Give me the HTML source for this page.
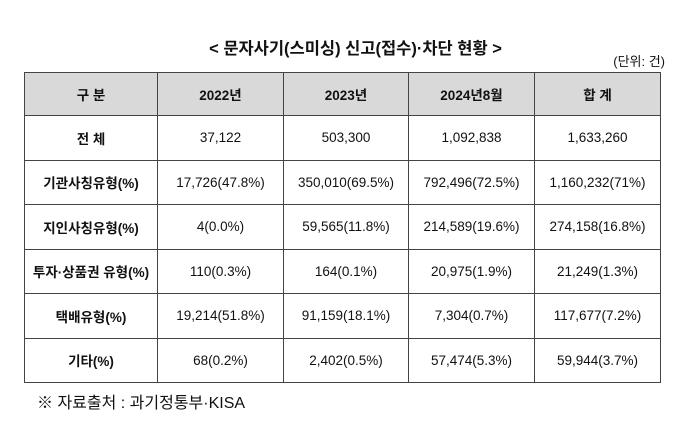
<!DOCTYPE html>
<html><head><meta charset="utf-8"><style>
body{margin:0;width:699px;height:423px;background:#fff;font-family:"Liberation Sans","Noto Sans CJK KR",sans-serif;color:#111;position:relative;overflow:hidden}
.t{position:absolute;top:35px;left:0;width:699px;text-align:center;font-size:16.5px;font-weight:bold;padding-left:12px;box-sizing:border-box}
.u{position:absolute;top:51px;right:34px;font-size:13px}
table{position:absolute;left:24px;top:72px;border-collapse:collapse;table-layout:fixed}
td{border:1.5px solid #444;text-align:center;font-size:13.5px;height:43.5px;padding:0}
tr.h td{background:#d9d9d9;font-weight:bold;height:42px}
td.l{font-weight:bold}
.f{position:absolute;left:37px;top:389px;font-size:16px}
</style></head><body>
<div class="t">&lt; 문자사기(스미싱) 신고(접수)·차단 현황 &gt;</div>
<div class="u">(단위: 건)</div>
<table>
<colgroup><col style="width:133px"><col style="width:126px"><col style="width:125px"><col style="width:126px"><col style="width:126px"></colgroup>
<tr class="h"><td>구 분</td><td>2022년</td><td>2023년</td><td>2024년8월</td><td>합 계</td></tr>
<tr><td class="l">전 체</td><td>37,122</td><td>503,300</td><td>1,092,838</td><td>1,633,260</td></tr>
<tr><td class="l">기관사칭유형(%)</td><td>17,726(47.8%)</td><td>350,010(69.5%)</td><td>792,496(72.5%)</td><td>1,160,232(71%)</td></tr>
<tr><td class="l">지인사칭유형(%)</td><td>4(0.0%)</td><td>59,565(11.8%)</td><td>214,589(19.6%)</td><td>274,158(16.8%)</td></tr>
<tr><td class="l">투자·상품권 유형(%)</td><td>110(0.3%)</td><td>164(0.1%)</td><td>20,975(1.9%)</td><td>21,249(1.3%)</td></tr>
<tr><td class="l">택배유형(%)</td><td>19,214(51.8%)</td><td>91,159(18.1%)</td><td>7,304(0.7%)</td><td>117,677(7.2%)</td></tr>
<tr><td class="l">기타(%)</td><td>68(0.2%)</td><td>2,402(0.5%)</td><td>57,474(5.3%)</td><td>59,944(3.7%)</td></tr>
</table>
<div class="f">※ 자료출처 : 과기정통부·KISA</div>
</body></html>
